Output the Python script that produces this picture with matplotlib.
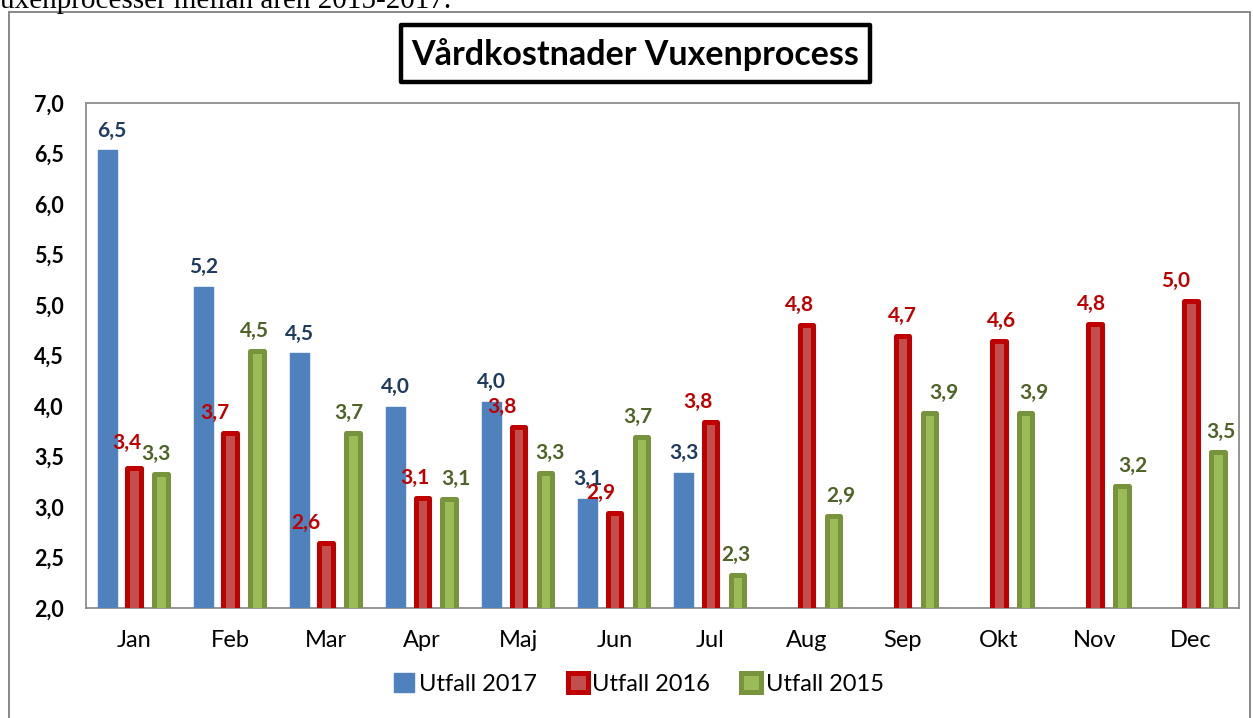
import numpy as np
import matplotlib
matplotlib.use("Agg")
import matplotlib.pyplot as plt
from matplotlib.patches import Rectangle

plt.rcParams['font.family'] = ['Lato', 'DejaVu Sans']

# data
months = ["Jan", "Feb", "Mar", "Apr", "Maj", "Jun", "Jul",
          "Aug", "Sep", "Okt", "Nov", "Dec"]
utfall_2017 = [6.53, 5.18, 4.52, 3.99, 4.04, 3.08, 3.34,
               np.nan, np.nan, np.nan, np.nan, np.nan]
utfall_2016 = [3.39, 3.73, 2.64, 3.09, 3.79, 2.94, 3.84,
               4.80, 4.69, 4.64, 4.81, 5.04]
utfall_2015 = [3.33, 4.54, 3.73, 3.08, 3.34, 3.69, 2.33,
               2.91, 3.93, 3.93, 3.21, 3.54]

# sidled för etiketterna (pixlar), som i Excel-bilden
dx_2017 = [5, 0, 0, 0, 0, 0, 0, 0, 0, 0, 0, 0]
dx_2016 = [-7, -15, -20, -7, -16, -14, -13, -7, 0, 3, -3, -15]
dx_2015 = [-5, -3, -4, 7, 5, -3, -2, 7, 14, 8, 11, 3]

W, H = 1253, 718
fig = plt.figure(figsize=(W / 100, H / 100), dpi=100)
ax = fig.add_axes([86 / W, 1 - 608 / H, (1239 - 86) / W, (608 - 103) / H])

x = np.arange(len(months))
step = 0.28

b17 = ax.bar(x - step, utfall_2017, width=0.2, color="#4F81BD",
             edgecolor="#4F81BD", linewidth=1, joinstyle="round",
             label="Utfall 2017", zorder=3)
b16 = ax.bar(x, utfall_2016, width=0.14, color="#C0504D",
             edgecolor="#C00000", linewidth=3.6, joinstyle="round",
             label="Utfall 2016", zorder=3)
b15 = ax.bar(x + step, utfall_2015, width=0.14, color="#9BBB59",
             edgecolor="#77933C", linewidth=3.6, joinstyle="round",
             label="Utfall 2015", zorder=3)

def fmt(v):
    return f"{v:.1f}".replace(".", ",")

series = [(utfall_2017, -step, dx_2017, "#1F3B5F"),
          (utfall_2016, 0, dx_2016, "#C00000"),
          (utfall_2015, step, dx_2015, "#4F6228")]
for vals, off, dxs, col in series:
    for i, v in enumerate(vals):
        if np.isnan(v):
            continue
        dy = 25 if (off == 0 and i == 0) else 20
        ax.annotate(fmt(v), (x[i] + off, v), xytext=(dxs[i], dy),
                    textcoords="offset pixels", ha="center", va="center",
                    fontsize=15, fontweight="bold", color=col, zorder=5)

ax.set_xlim(-0.5, len(months) - 0.5)
ax.set_ylim(2.0, 7.0)
yt = np.arange(2.0, 7.01, 0.5)
ax.set_yticks(yt)
ax.set_yticklabels([fmt(t) for t in yt], fontsize=15.5, fontweight="bold")
ax.set_xticks(x)
ax.set_xticklabels(months, fontsize=17)
ax.tick_params(axis="y", length=0, pad=16)
ax.tick_params(axis="x", length=0, pad=16)
for s in ax.spines.values():
    s.set_color("#8C8C8C")
    s.set_linewidth(1.3)

ax.legend(handles=[b17, b16, b15], loc="center", ncol=3, frameon=False,
          bbox_to_anchor=(639 / W, 1 - 684 / H), bbox_transform=fig.transFigure,
          fontsize=17, handlelength=0.85, handleheight=0.85,
          handletextpad=0.2, columnspacing=1.3)

# ram runt diagrammet
fig.patches.append(Rectangle((9 / W, -0.1), (1250 - 9) / W, 1 - 12 / H + 0.1,
                             transform=fig.transFigure, fill=False,
                             edgecolor="#7F7F7F", linewidth=1.3))

# rubrik i ruta
fig.patches.append(Rectangle((401 / W, 1 - 82 / H), (870 - 401) / W, 57 / H,
                             transform=fig.transFigure, facecolor="white",
                             edgecolor="black", linewidth=3.2, joinstyle="round"))
fig.text(635.5 / W, 1 - 55 / H, "Vårdkostnader Vuxenprocess", ha="center",
         va="center", fontsize=24.5, fontweight="bold")

# avklippt text ovanför
fig.text(0, 1 - 8 / H, "uxenprocesser mellan åren 2015-2017.",
         family="Liberation Serif", fontsize=21, va="baseline", ha="left")

fig.savefig("out.png", dpi=100)
